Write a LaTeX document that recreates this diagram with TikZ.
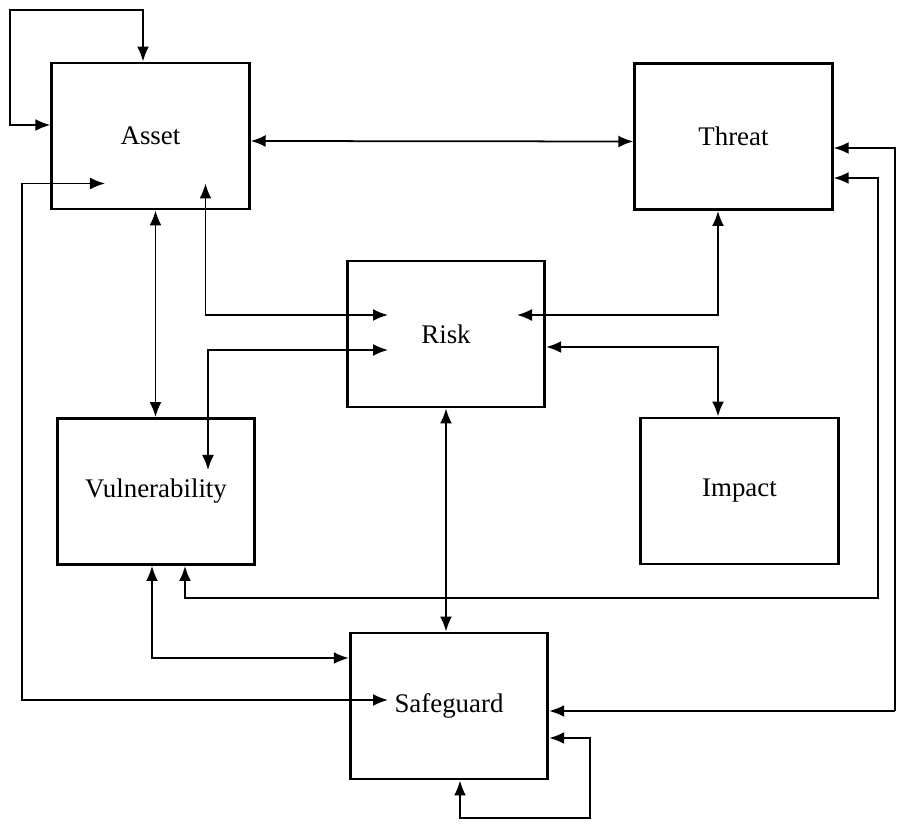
\documentclass[tikz,border=0pt]{standalone}
\usepackage{fontspec}
\setmainfont{Liberation Serif}
\usetikzlibrary{arrows.meta}

\tikzset{
  block/.style={draw, line width=1.7pt, minimum width=3.95cm, minimum height=2.92cm,
    inner sep=0pt, font=\fontsize{15.3}{18}\selectfont},
  link/.style={line width=1pt, {Latex[length=0.3cm,width=0.24cm]}-{Latex[length=0.3cm,width=0.24cm]}}
}

\begin{document}
\begin{tikzpicture}
    \useasboundingbox (0,0) rectangle (17.94,16.56);
    % the six boxes
    \node[block] (Asset)         at (3.01,13.84) {Asset};
    \node[block] (Threat)        at (14.67,13.83) {Threat};
    \node[block] (Risk)          at (8.92,9.88) {Risk};
    \node[block] (Vulnerability) at (3.12,6.73) {Vulnerability};
    \node[block] (Impact)        at (14.79,6.74) {Impact};
    \node[block] (Safeguard)     at (8.98,2.44) {Safeguard};
    % corner points of the long loops
    \coordinate (AssetLoop)  at (0.2,16.36);
    \coordinate (AssetOut)   at (0.44,2.56);
    \coordinate (ThreatLoop) at (17.56,4.6);
    \coordinate (SafeRight)  at (17.9,2.34);
    \coordinate (SafeLoop)   at (11.8,0.2);
    % connectors
    \draw[link] ([xshift=-1.5mm]Asset.north) |- (AssetLoop) |- ([yshift=2.2mm]Asset.west);% self loop
    \draw[link] ([yshift=-1mm]Asset.east) -- ([yshift=-1mm]Threat.west);
    \draw[link] ([xshift=1mm]Asset.south) -- ([xshift=1mm]Asset.south |- Vulnerability.north);
    \draw[link] ([shift={(1.1,0.54)}]Asset.south) |- ([shift={(-1.16,0.38)}]Risk.center);
    \draw[link] ([shift={(-1.16,-0.32)}]Risk.center) -| ([shift={(1.04,0.43)}]Vulnerability.center);
    \draw[link] ([xshift=-3.1mm]Threat.south) |- ([shift={(1.42,0.38)}]Risk.center);
    \draw[link] ([yshift=-2.6mm]Risk.east) -| ([xshift=-4.3mm]Impact.north);
    \draw[link] (Risk.south) -- (Risk.south |- Safeguard.north);
    \draw[link] ([xshift=-0.8mm]Vulnerability.south) |- ([yshift=9.6mm]Safeguard.west);
    \draw[link] ([shift={(-0.91,0.54)}]Asset.south) -| (AssetOut) |- ([shift={(-1.22,0.12)}]Safeguard.center);
    \draw[link] ([xshift=5.8mm]Vulnerability.south) |- (ThreatLoop) |- ([yshift=-8.3mm]Threat.east);
    \draw[link] ([yshift=-2.3mm]Threat.east) -| (SafeRight) |- ([yshift=-1mm]Safeguard.east);
    \draw[link] ([yshift=-6.4mm]Safeguard.east) -| (SafeLoop) -| ([xshift=2.2mm]Safeguard.south);% self loop
\end{tikzpicture}
\end{document}
